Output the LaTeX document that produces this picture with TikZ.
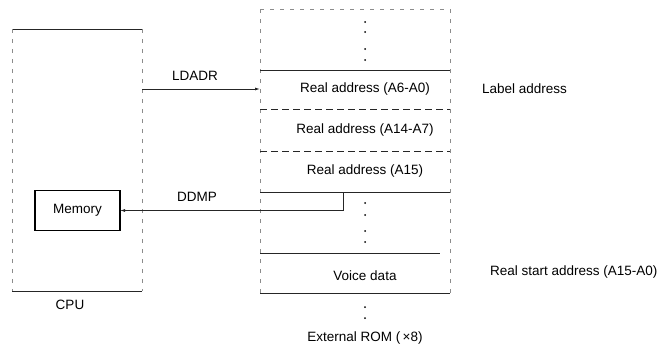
\documentclass[tikz,border=0pt]{standalone}
\usepackage{fontspec}
\setmainfont{Liberation Sans}
\usetikzlibrary{arrows.meta}
\begin{document}
\begin{tikzpicture}[x=1pt,y=-1pt,
  font=\fontsize{13.5}{16}\selectfont,
  every node/.style={inner sep=0pt, outer sep=0pt},
  ln/.style={line width=0.8pt, draw=black!85},
  faint/.style={line width=0.45pt, draw=black!45, dash pattern=on 4pt off 6pt},
  sep/.style={line width=0.7pt, draw=black!85, dash pattern=on 7pt off 4pt},
  arr/.style={line width=0.8pt, draw=black!85, -{Latex[length=5pt,width=3pt]}},
  dot/.style={circle, fill=black, minimum size=2pt}]
\useasboundingbox (0,0) rectangle (664,351);

% CPU
\node[minimum width=130pt, minimum height=262pt] (cpu) at (77,160) {};
\draw[ln] (cpu.north west) -- (cpu.north east);
\draw[ln] (cpu.south west) -- (cpu.south east);
\draw[faint] (cpu.north west) -- (cpu.south west);
\draw[faint] (cpu.north east) -- (cpu.south east);
\node (cpul) at (70,305) {CPU};
\node[draw, line width=1.6pt, minimum width=85pt, minimum height=40pt] (mem) at (77.5,210.5) {Memory};

% External ROM
\node[minimum width=190pt, minimum height=284pt] (rom) at (355,151) {};
\draw[faint] (rom.north west) -- (rom.north east);
\draw[faint] (rom.north west) -- (rom.south west);
\draw[faint] (rom.north east) -- (rom.south east);

\node (r1) at (365,89) {Real address (A6-A0)};
\node (r2) at (365,130) {Real address (A14-A7)};
\node (r3) at (365,171) {Real address (A15)};
\node (vd) at (365,276) {Voice data};
\node (ext) at (365,338) {External ROM (\,×8)};

\coordinate (l1) at (0,70);
\coordinate (l2) at (0,109);
\coordinate (l3) at (0,151);
\coordinate (l4) at (0,192);
\coordinate (l5) at (0,253);
\coordinate (l6) at (0,293);
\draw[ln] (rom.west |- l1) -- (rom.east |- l1);
\draw[sep] (rom.west |- l2) -- (rom.east |- l2);
\draw[sep] (rom.west |- l3) -- (rom.east |- l3);
\draw[ln] (rom.west |- l4) -- (rom.east |- l4);
\draw[ln] (rom.west |- l5) -- ([xshift=-10pt]rom.east |- l5);
\draw[ln] (rom.west |- l6) -- (rom.east |- l6);

% dots
\foreach \y in {22,32,49,60,203,215,231,242,307,318}
  \node[dot] at (365,\y) {};

% side labels
\node[anchor=west] (lab) at (482,89) {Label address};
\node[anchor=west] (rsa) at (490,272) {Real start address (A15-A0)};

% connectors
\draw[arr] (cpu.east |- r1) -- (rom.west |- r1);
\node (ldadr) at (195,76) {LDADR};
\coordinate (tap) at (343,192);
\draw[arr] (tap) |- (mem.east);
\node (ddmp) at (197,197) {DDMP};
\end{tikzpicture}
\end{document}
